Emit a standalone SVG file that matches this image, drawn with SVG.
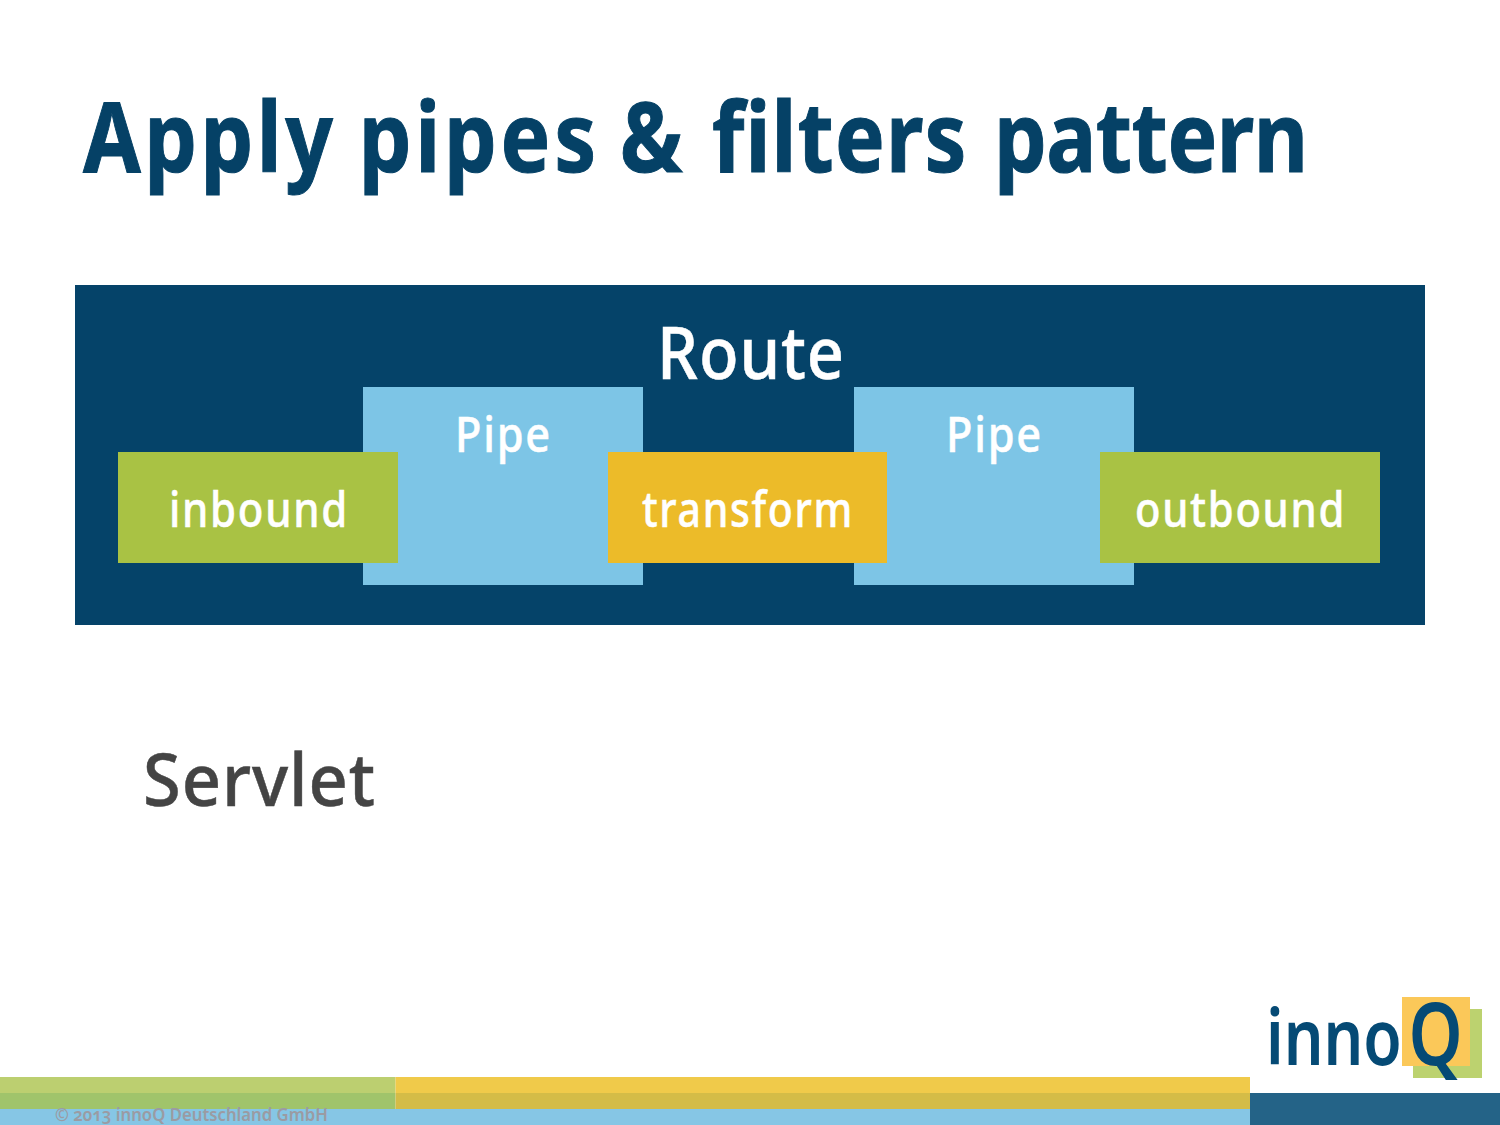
<svg xmlns="http://www.w3.org/2000/svg" width="1500" height="1125" viewBox="0 0 1500 1125">
<style>
text{font-family:"Noto Sans","Open Sans","Liberation Sans",sans-serif}
.w{fill:#fff;font-weight:500;stroke:#fff;stroke-width:.5px}
.s{font-size:49px;letter-spacing:2px}
.p{fill:#7dc5e6}
.g{fill:#a9c244}
</style>
<rect width="1500" height="1125" fill="#fff"/>
<text transform="translate(83 172) scale(.87 1)" font-size="96" font-weight="700" fill="#054166" stroke="#054166" stroke-width="1"><tspan x="0" y="0" letter-spacing="4">Apply</tspan><tspan x="317" y="0" letter-spacing="4.300">pipes</tspan><tspan x="617" y="0">&amp;</tspan><tspan x="723" y="0" letter-spacing="1.300">filters</tspan><tspan x="1047" y="0" letter-spacing="-.5">pattern</tspan></text>
<g id="route"><rect x="75" y="285" width="1350" height="340" fill="#054369"/>
<text class="w" x="657" y="379" font-size="72" letter-spacing="1" textLength="188" lengthAdjust="spacingAndGlyphs">Route</text></g>
<g id="pipe1"><rect class="p" x="363" y="387" width="280" height="198"/>
<text class="w s" x="455" y="452" textLength="97" lengthAdjust="spacingAndGlyphs">Pipe</text></g>
<g id="pipe2"><rect class="p" x="854" y="387" width="280" height="198"/>
<text class="w s" x="946" y="452" textLength="97" lengthAdjust="spacingAndGlyphs">Pipe</text></g>
<g id="inbound"><rect class="g" x="118" y="452" width="280" height="111"/>
<text class="w s" x="169" y="527" textLength="180" lengthAdjust="spacingAndGlyphs">inbound</text></g>
<g id="transform"><rect x="608" y="452" width="279" height="111" fill="#ecbb29"/>
<text class="w s" x="642" y="527" textLength="212" lengthAdjust="spacingAndGlyphs">transform</text></g>
<g id="outbound"><rect class="g" x="1100" y="452" width="280" height="111"/>
<text class="w s" x="1135" y="527" textLength="211" lengthAdjust="spacingAndGlyphs">outbound</text></g>
<text x="143" y="806" font-size="72" font-weight="500" stroke="#444" stroke-width=".5" letter-spacing="1" fill="#444" textLength="233" lengthAdjust="spacingAndGlyphs">Servlet</text>
<g id="footer">
<rect x="0" y="1077" width="395.500" height="16" fill="#bccf70"/>
<rect x="0" y="1093" width="395.500" height="16" fill="#a0c46b"/>
<rect x="395.500" y="1077" width="854.500" height="16" fill="#f0ca4a"/>
<rect x="395.500" y="1093" width="854.500" height="16" fill="#d4bc47"/>
<rect x="0" y="1109" width="1250" height="16" fill="#86c6e5"/>
<rect x="1250" y="1093" width="250" height="32" fill="#246387"/>
<text x="55" y="1121" font-size="18" font-weight="600" fill="#9b9ba3" style="font-variant-numeric:oldstyle-nums" textLength="273" lengthAdjust="spacingAndGlyphs">© 2013 innoQ Deutschland GmbH</text>
</g>
<g id="logo">
<rect x="1413" y="1009" width="69" height="69" fill="#bcd26f"/>
<rect x="1402" y="997" width="68" height="69" fill="#fbc859"/>
<text transform="translate(1266 1065) scale(.8 1)" font-weight="600" fill="#054a75"><tspan x="0" y="0" font-size="78">inno</tspan><tspan x="178" y="0" font-size="86">Q</tspan></text>
</g>
</svg>
